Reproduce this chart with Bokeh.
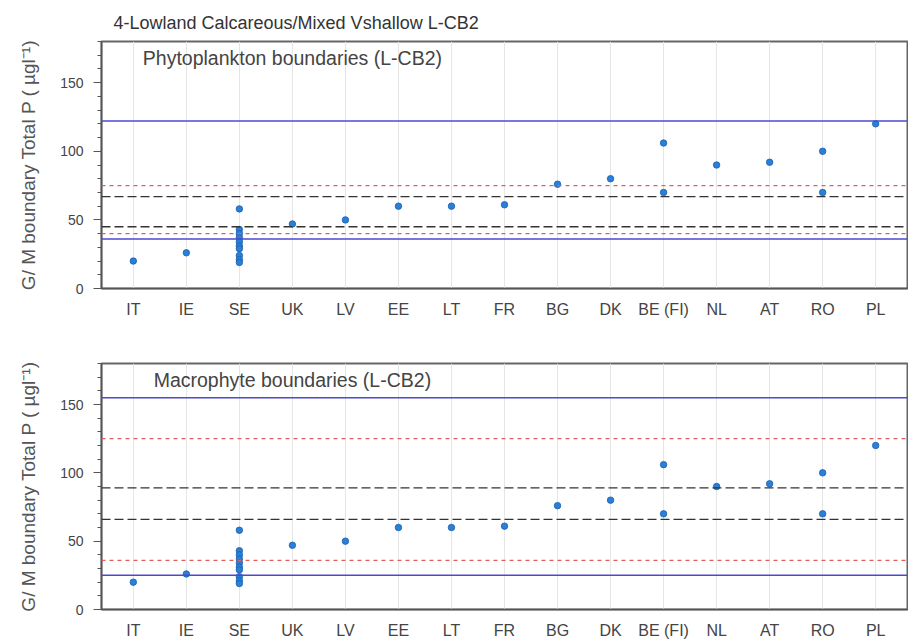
from bokeh.plotting import figure
from bokeh.models import FactorRange, Range1d, Span, FixedTicker, ColumnDataSource
from bokeh.core.properties import value
from bokeh.layouts import column
from bokeh.embed import file_html
from bokeh.resources import INLINE

# ---------------- data ----------------
countries = ["IT", "IE", "SE", "UK", "LV", "EE", "LT", "FR", "BG", "DK",
             "BE (FI)", "NL", "AT", "RO", "PL"]

point_country = ["IT", "IE",
                 "SE", "SE", "SE", "SE", "SE", "SE", "SE", "SE", "SE", "SE",
                 "UK", "LV", "EE", "LT", "FR", "BG", "DK",
                 "BE (FI)", "BE (FI)", "NL", "AT", "RO", "RO", "PL"]
point_value = [20, 26,
               58, 43, 40, 37, 34, 31, 29, 24, 21, 19,
               47, 50, 60, 60, 61, 76, 80,
               106, 70, 90, 92, 100, 70, 120]

title_text = "4-Lowland Calcareous/Mixed Vshallow L-CB2"
panel_names = ["Phytoplankton boundaries (L-CB2)", "Macrophyte boundaries (L-CB2)"]
panel_label_anchor = "UK"
panel_label_value = 168

# boundary lines per panel: value, kind
phyto_lines = [122, 75, 67, 45, 40, 36]
phyto_kinds = ["blue", "red", "black", "black", "red", "blue"]
macro_lines = [155, 125, 89, 66, 36, 25]
macro_kinds = ["blue", "red", "black", "black", "red", "blue"]

y_ticks = [0, 50, 100, 150]
y_minor = list(range(0, 181, 10))

styles = {
    "blue": dict(line_color="#4a4ad0", line_width=1.5, line_dash="solid"),
    "red": dict(line_color="#e06060", line_width=1.3, line_dash="4 4"),
    "black": dict(line_color="#333333", line_width=1.3, line_dash="9 4"),
}

FONT = "Liberation Sans"
TXT = "#444444"


def make_panel(name, lines, kinds, with_title, height, border_top, border_bottom):
    p = figure(width=908, height=height,
               x_range=FactorRange(factors=countries, range_padding=0.1,
                                   range_padding_units="absolute"),
               y_range=Range1d(0, 180),
               output_backend="svg", toolbar_location=None,
               min_border_left=101, min_border_right=1,
               min_border_top=border_top, min_border_bottom=border_bottom)
    if with_title:
        p.title.text = title_text
        p.title.align = "left"
        p.title.offset = 12
        p.title.standoff = 18
        p.title.text_font = FONT
        p.title.text_font_size = "18px"
        p.title.text_font_style = "normal"
        p.title.text_color = "#333333"

    p.outline_line_color = "#666666"
    p.outline_line_width = 2
    p.background_fill_color = "white"
    p.border_fill_color = "white"

    p.ygrid.grid_line_color = None
    p.xgrid.grid_line_color = "#e6e6e6"
    p.xgrid.grid_line_width = 1

    p.yaxis.ticker = FixedTicker(ticks=y_ticks, minor_ticks=y_minor)
    for ax in (p.xaxis[0], p.yaxis[0]):
        ax.axis_line_color = "#555555"
        ax.axis_line_width = 1.5
        ax.major_label_text_font = FONT
        ax.major_label_text_color = TXT
    p.yaxis.major_tick_out = 8
    p.yaxis.major_tick_in = 0
    p.yaxis.minor_tick_out = 4
    p.yaxis.minor_tick_in = 0
    p.yaxis.major_tick_line_color = "#555555"
    p.yaxis.minor_tick_line_color = "#555555"
    p.yaxis.major_label_text_font_size = "14px"
    p.yaxis.major_label_standoff = 10
    p.yaxis.axis_label = "G/ M boundary Total P ( \u00b5gl\u207b\u00b9)"
    p.yaxis.axis_label_text_font = FONT
    p.yaxis.axis_label_text_font_size = "19px"
    p.yaxis.axis_label_text_font_style = "normal"
    p.yaxis.axis_label_text_color = "#555555"
    p.yaxis.axis_label_standoff = 18

    p.xaxis.major_tick_line_color = None
    p.xaxis.minor_tick_line_color = None
    p.xaxis.major_label_text_font_size = "16px"
    p.xaxis.major_label_standoff = 6

    for v, k in zip(lines, kinds):
        p.add_layout(Span(location=v, dimension="width", **styles[k]))

    src = ColumnDataSource(dict(x=point_country, y=point_value))
    p.scatter("x", "y", source=src, size=6.5, fill_color="#2a7fd6",
              line_color="#1a5fb0", line_width=0.8)

    p.text(x=[panel_label_anchor], y=[panel_label_value], text=[name],
           text_font=value(FONT), text_font_size="19.5px", text_color="#444444",
           text_align="center", text_baseline="middle")
    return p


p1 = make_panel(panel_names[0], phyto_lines, phyto_kinds, True, 320, 41, 31)
p2 = make_panel(panel_names[1], macro_lines, macro_kinds, False, 321, 43, 28)

layout = column(p1, p2, spacing=0)
open("out.html", "w").write(file_html(layout, INLINE))
